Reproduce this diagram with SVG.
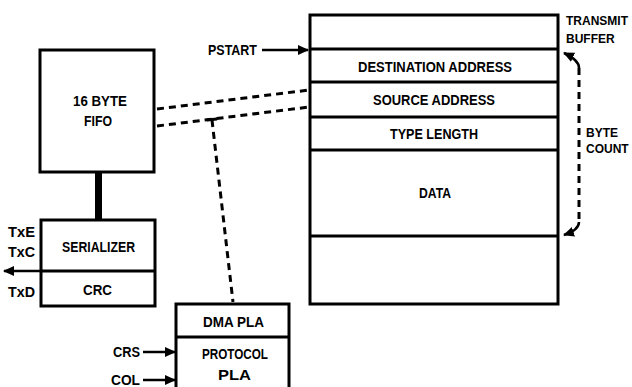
<svg xmlns="http://www.w3.org/2000/svg" width="632" height="387" viewBox="0 0 632 387">
<style>
.box{fill:#fff;stroke:#000;stroke-width:3}
.ln{stroke:#000;stroke-width:3;fill:none}
.dash{stroke:#000;stroke-width:3;fill:none;stroke-dasharray:7 5}
.arr{stroke:#000;stroke-width:2.5;fill:none}
text{font-family:"Liberation Sans",Arial,sans-serif;font-weight:bold;font-size:14px;fill:#000}
text.sm{font-size:12px}
</style>
<defs>
<marker id="ah" markerWidth="11" markerHeight="10" refX="10" refY="5" orient="auto" markerUnits="userSpaceOnUse"><path d="M0,0 L11,5 L0,10 Z" fill="#000"/></marker>
</defs>
<rect width="632" height="387" fill="#fff"/>
<g id="buffer">
<rect class="box" x="310" y="15" width="248" height="289"/>
<line class="ln" x1="310" y1="49" x2="558" y2="49"/>
<line class="ln" x1="310" y1="82" x2="558" y2="82"/>
<line class="ln" x1="310" y1="117" x2="558" y2="117"/>
<line class="ln" x1="310" y1="150" x2="558" y2="150"/>
<line class="ln" x1="310" y1="236" x2="558" y2="236"/>
<text x="358" y="72" textLength="154" lengthAdjust="spacingAndGlyphs">DESTINATION ADDRESS</text>
<text x="373" y="105" textLength="122" lengthAdjust="spacingAndGlyphs">SOURCE ADDRESS</text>
<text x="390" y="139" textLength="88" lengthAdjust="spacingAndGlyphs">TYPE LENGTH</text>
<text x="419" y="198" textLength="32" lengthAdjust="spacingAndGlyphs">DATA</text>
<text class="sm" x="566" y="25">TRANSMIT</text>
<text class="sm" x="566" y="43">BUFFER</text>
</g>
<g id="fifo">
<rect class="box" x="40" y="50" width="114" height="122"/>
<text x="73" y="106" textLength="54" lengthAdjust="spacingAndGlyphs">16 BYTE</text>
<text x="84" y="126" textLength="28" lengthAdjust="spacingAndGlyphs">FIFO</text>
</g>
<g id="serializer">
<rect class="box" x="41" y="220" width="114" height="86"/>
<line class="ln" x1="41" y1="271" x2="155" y2="271"/>
<text x="62" y="252" textLength="73" lengthAdjust="spacingAndGlyphs">SERIALIZER</text>
<text x="83" y="295" textLength="29" lengthAdjust="spacingAndGlyphs">CRC</text>
<text x="8" y="237" textLength="27" lengthAdjust="spacingAndGlyphs">TxE</text>
<text x="8" y="257" textLength="27" lengthAdjust="spacingAndGlyphs">TxC</text>
<text x="8" y="297" textLength="27" lengthAdjust="spacingAndGlyphs">TxD</text>
</g>
<g id="pla">
<rect class="box" x="176" y="304" width="113" height="90"/>
<line class="ln" x1="176" y1="337" x2="289" y2="337"/>
<text x="203" y="327" textLength="61" lengthAdjust="spacingAndGlyphs">DMA PLA</text>
<text x="202" y="359" textLength="66" lengthAdjust="spacingAndGlyphs">PROTOCOL</text>
<text x="218" y="380" textLength="33" lengthAdjust="spacingAndGlyphs">PLA</text>
<text x="113" y="357" textLength="27" lengthAdjust="spacingAndGlyphs">CRS</text>
<text x="111" y="385" textLength="29" lengthAdjust="spacingAndGlyphs">COL</text>
</g>
<g id="labels">
<text x="208" y="55" textLength="49" lengthAdjust="spacingAndGlyphs">PSTART</text>
<text class="sm" x="586" y="137">BYTE</text>
<text class="sm" x="586" y="153">COUNT</text>
</g>
<g id="connectors">
<rect x="95" y="172" width="7" height="48" fill="#000"/>
<line class="arr" x1="262" y1="50" x2="308" y2="50" marker-end="url(#ah)"/>
<line class="arr" x1="143" y1="352" x2="175" y2="352" marker-end="url(#ah)"/>
<line class="arr" x1="143" y1="380" x2="175" y2="380" marker-end="url(#ah)"/>
<line class="arr" x1="41" y1="271" x2="4" y2="271" marker-end="url(#ah)"/>
<line class="dash" x1="157" y1="109" x2="309" y2="90"/>
<line class="dash" x1="157" y1="126" x2="309" y2="107"/>
<line class="dash" x1="212" y1="120" x2="233" y2="302"/>
<line class="ln" x1="207" y1="120" x2="217" y2="119"/>
<path class="dash" d="M579,68 L579,222"/>
<path class="arr" d="M579,68 Q579,60 564,53" marker-end="url(#ah)"/>
<path class="arr" d="M579,222 Q579,230 564,235" marker-end="url(#ah)"/>
</g>
</svg>
